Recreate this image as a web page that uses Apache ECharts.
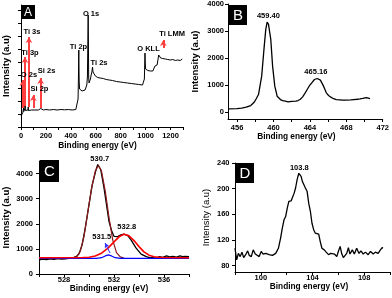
<!DOCTYPE html>
<html><head><meta charset="utf-8">
<script src="https://cdn.jsdelivr.net/npm/echarts@6/dist/echarts.min.js"></script>
<style>html,body{margin:0;padding:0;background:#fff}#c{width:392px;height:298px}</style>
</head><body><div id="c"></div>
<script>
// ---------- Panel A: survey spectrum ----------
const aEnergy = [0,5,10,15,18,20,22,26,30,33,36,42,50,56,58,60,70,85,98,101,104,120,140,155,158,161,180,200,230,260,290,320,350,380,410,440,452,458,461,463,464,465,467,470,475,482,490,498,506,514,522,528,533,536,539,541,543,546,551,557,563,569,574,578,583,590,597,605,615,625,635,648,660,672,684,696,708,720,735,750,765,780,795,810,825,840,855,870,885,900,915,930,945,960,975,985,990,993,995,997,1000,1008,1018,1028,1038,1048,1058,1068,1075,1080,1085,1092,1100,1105,1110,1115,1121,1128,1138,1148,1158,1168,1178,1188,1198,1208,1218,1228,1238,1248,1258,1268,1278,1288,1294];
const aIntensity = [11,12,13,14.5,16,19,15.5,16,18,21,16.5,16,16.5,17,20,16.5,16.5,17,17,18.5,17,17,17,17.5,18.5,17,17,17.5,17,17.5,17,17.5,17.2,17.5,17,17.5,18,28,50,70,77,62,45,38,37,39,36,37,35,37,38,42,50,80,112,85,50,44,45,48,52,55,60,55,53,54,51,52,49.5,50.5,49,50,48.5,49,47.5,48.5,47,47.5,46.5,47,45.5,46.5,45,45.5,44.5,45,44,44.5,43.5,44,43,43.5,42.5,43,42,42.5,48,64,74,65,58,57,56.5,57.5,56,57,56,57.5,61,59,60,62,68,72,70,73,69,70.5,68.5,70,68,69.5,67.5,69,67,68.5,67.5,68,66.5,68,67,68,66.5,67.5,68];
const aXTickLabels = [0,200,400,600,800,1000,1200];
const aPeakNames = ['O 1s','Ti 2p','Ti 2s','O KLL','Ti LMM','O 2s','Ti 3p','Ti 3s','Si 2p','Si 2s'];
const aPeakLabelX = [562,461,626,1023,1212,64,72,88,148,205];
const aPeakLabelY = [113,80,64,78,93,52,74,95,38,56];
const aArrowX = [14,32,64,99,158,1142];
const aArrowFrom = [19,20,20,19,19,79];
const aArrowTo = [47,70,90,32,49,87];

// ---------- Panel B: Ti 2p ----------
const bEnergy = [455.1,456,456.5,457,457.5,457.9,458.1,458.35,458.7,458.95,459.15,459.3,459.45,459.7,459.9,460.14,460.4,460.76,461.0,461.3,461.6,461.8,462.0,462.2,462.45,462.7,462.95,463.2,463.45,463.7,463.95,464.2,464.5,464.8,465.0,465.15,465.5,465.8,466.05,466.3,466.6,466.9,467.3,467.6,467.9,468.1,468.5,468.8,469.2,469.5,469.8,470.0,470.2,470.4,470.6];
const bIntensity = [123,136,150,185,247,380,500,654,1333,2321,3062,3333,3247,2691,1704,963,593,469,430,407,380,370,400,395,410,432,480,568,700,840,980,1086,1210,1247,1230,1185,963,716,620,556,500,469,455,444,450,444,455,469,480,494,510,531,540,519,505];
const bXTickLabels = [456,460,464,468,472];
const bYTickLabels = [0,1000,2000,3000,4000];
const bPeakNames = ['459.40','465.16'];
const bPeakLabelX = [459.44,464.65];
const bPeakLabelY = [3568,1498];

// ---------- Panel C: O 1s ----------
const cEnergy = [526.0,526.3,526.6,526.9,527.2,527.5,527.8,528.1,528.4,528.7,529.0,529.2,529.45,529.7,530.0,530.26,530.53,530.7,530.94,531.2,531.4,531.6,531.83,532.0,532.3,532.55,532.8,533.1,533.36,533.77,534.17,534.58,534.9,535.1,535.4,535.65,535.9,536.2,536.45,536.7,537.0,537.27,537.5,537.7,538.0];
const cIntensity = [560,590,570,600,580,610,590,600,620,640,700,800,1160,1830,2760,3560,4090,4360,4160,3430,2760,2090,1690,1500,1490,1560,1590,1530,1360,1030,790,690,640,660,630,690,660,720,680,700,670,720,690,700,690];
const cFit1Energy = [528.6,529.0,529.3,529.6,529.9,530.2,530.5,530.75,531.0,531.3,531.6,531.9,532.2,532.5,532.8];
const cFit1Intensity = [620,680,900,1500,2450,3400,4100,4320,4100,3300,2250,1350,850,680,630];
const cFit2Energy = [526,530.6,531.0,531.3,531.55,531.8,532.1,532.5,538];
const cFit2Intensity = [620,622,650,720,760,720,650,625,620];
const cFit3Energy = [526,529.5,530.0,530.5,531.0,531.5,532.0,532.4,532.8,533.2,533.6,534.0,534.4,534.8,535.2,535.6,536.0,538];
const cFit3Intensity = [650,655,670,720,830,1020,1280,1480,1580,1520,1330,1090,880,750,690,665,655,650];
const cXTickLabels = [528,532,536];
const cYTickLabels = [0,1000,2000,3000,4000];
const cPeakNames = ['530.7','531.5','532.8'];
const cPeakLabelX = [530.86,531.02,533.02];
const cPeakLabelY = [4500,1473,1860];
const cPeakLabelDy = [-2,0,0];
const cArrow = [[531.68,836],[531.28,1235]];

// ---------- Panel D: Si 2p ----------
const dEnergy = [98.0,98.13,98.26,98.4,98.54,98.67,98.85,98.98,99.1,99.26,99.41,99.57,99.72,99.87,100.03,100.18,100.38,100.64,100.9,101.15,101.36,101.53,101.66,101.79,101.92,102.05,102.17,102.35,102.48,102.58,102.69,102.81,102.94,103.0,103.12,103.22,103.35,103.45,103.58,103.71,103.84,103.96,104.09,104.22,104.35,104.48,104.6,104.73,104.91,105.06,105.24,105.4,105.55,105.7,105.88,106.0,106.14,106.27,106.39,106.52,106.65,106.78,106.9,107.08,107.24,107.42,107.6,107.75,107.93,108.1,108.31,108.49,108.7,108.87,109.08,109.26,109.39,109.46];
const dIntensity = [107,89,99,94,101,92.5,98,103,96,94,104.5,98,101,94,102,98,99,97,96,99,107,123,138,151,156.5,170,180,181,183,193,201,214,224,227,219,211,214,201,196,177,164,146,136,130.5,128,129,117.5,107,104.5,101,97,99,96,98,94,102,110,98,92.5,94,99,108,98,104.5,98,107,99,103,98,101,97,102,98,101,99,104.5,108,107];
const dXTickLabels = [100,104,108];
const dYTickLabels = [80,120,160,200,240];
const dPeakNames = ['103.8'];
const dPeakLabelX = [102.98];
const dPeakLabelY = [232];

// ---------- helpers ----------
const FONT = 'Liberation Sans';
const zip = (xs, ys) => xs.map((x, i) => [x, ys[i]]);
const range = (a, b, s) => { const r = []; for (let v = a; v <= b + 1e-9; v += s) r.push(+v.toFixed(6)); return r; };
const labelPoints = (names, xs, ys, dys) => names.map((n, i) => ({
  name: n, coord: [xs[i], ys[i]], symbol: 'circle', symbolSize: 1,
  itemStyle: { color: 'rgba(0,0,0,0)' },
  label: { show: true, position: 'inside', offset: [0, dys ? dys[i] : 0], formatter: n, color: '#000', fontSize: 7.5, fontWeight: 'bold', fontFamily: FONT }
}));
const plain = v => String(v);
function xAx(idx, min, max, labels, ticks, name, gap, padRight, margin) {
  return {
    type: 'value', gridIndex: idx, min, max, name, nameLocation: 'middle', nameGap: gap,
    nameTextStyle: { color: '#000', fontSize: 8.3, fontWeight: 'bold', fontFamily: FONT, padding: [0, padRight, 0, 0] },
    axisLine: { show: true, onZero: false, lineStyle: { color: '#000', width: 1 } },
    axisTick: { show: true, length: 3, customValues: ticks, lineStyle: { color: '#000' } },
    axisLabel: { show: true, customValues: labels, formatter: plain, margin, color: '#000', fontSize: 7.5, fontWeight: 'bold', fontFamily: FONT },
    splitLine: { show: false }
  };
}
function yAx(idx, min, max, labels, ticks, name, gap, showLabels, margin, nameWeight) {
  return {
    type: 'value', gridIndex: idx, min, max, name, nameLocation: 'middle', nameGap: gap, nameRotate: 90,
    nameTextStyle: { color: '#000', fontSize: 9.5, fontWeight: nameWeight, fontFamily: FONT },
    axisLine: { show: true, onZero: false, lineStyle: { color: '#000', width: 1 } },
    axisTick: { show: true, length: 3, customValues: ticks, lineStyle: { color: '#000' } },
    axisLabel: { show: showLabels, customValues: labels, formatter: plain, margin, color: '#000', fontSize: 7.5, fontWeight: 'bold', fontFamily: FONT },
    splitLine: { show: false }
  };
}
function line(idx, data, color, width, extra) {
  return Object.assign({
    type: 'line', xAxisIndex: idx, yAxisIndex: idx, data, symbol: 'none', showSymbol: false,
    lineStyle: { color, width }, itemStyle: { color }, animation: false, silent: true
  }, extra || {});
}
function box(x, y, w, h, letter, fs) {
  return {
    type: 'group', left: x, top: y, z: 100, children: [
      { type: 'rect', shape: { x: 0, y: 0, width: w, height: h }, style: { fill: '#000' } },
      { type: 'text', x: w / 2, y: h / 2 + 0.5, style: { text: letter, fill: '#fff', font: `${fs}px ${FONT}`, textAlign: 'center', textVerticalAlign: 'middle' } }
    ]
  };
}

const arrowsA = aArrowX.map((x, i) => [
  { coord: [x, aArrowFrom[i]] }, { coord: [x, aArrowTo[i]] }
]);

const option = {
  animation: false,
  grid: [
    { left: 21, top: 5, width: 162, height: 122 },
    { left: 228, top: 4, width: 159, height: 115 },
    { left: 39, top: 161, width: 150, height: 113 },
    { left: 235, top: 163, width: 155, height: 109 }
  ],
  xAxis: [
    xAx(0, 0, 1300, aXTickLabels, range(0, 1300, 100), 'Binding energy (eV)', 15, 9, 4.5),
    xAx(1, 455, 472, bXTickLabels, range(456, 472, 2), 'Binding energy (eV)', 13.5, 18, 5),
    xAx(2, 526, 538, cXTickLabels, range(526, 538, 2), 'Binding energy (eV)', 8, 10, 2),
    xAx(3, 98, 110, dXTickLabels, range(98, 110, 2), 'Binding energy (eV)', 11, 7, 2)
  ],
  yAxis: [
    yAx(0, 0, 122, [], range(0, 117, 13), 'Intensity (a.u)', 10, false, 4, 'bold'),
    yAx(1, -250, 4000, bYTickLabels, bYTickLabels, 'Intensity (a.u)', 27.7, true, 4, 'bold'),
    yAx(2, 0, 4500, cYTickLabels, cYTickLabels, 'Intensity (a.u)', 27.7, true, 6, 'bold'),
    yAx(3, 70, 240, dYTickLabels, dYTickLabels, 'Intensity (a.u)', 24, true, 5.5, 'normal')
  ],
  series: [
    line(0, zip(aEnergy, aIntensity), '#000', 1, {
      markLine: {
        z: 1, silent: true, animation: false, symbol: ['none', 'arrow'], symbolSize: [5, 6],
        label: { show: false }, lineStyle: { color: '#ff4040', width: 2, type: 'solid' },
        data: arrowsA
      }
    }),
    line(0, [], '#000', 1, {
      z: 5,
      markPoint: { z: 10, silent: true, animation: false, data: labelPoints(aPeakNames, aPeakLabelX, aPeakLabelY) }
    }),
    line(1, zip(bEnergy, bIntensity), '#000', 1.3, {
      markPoint: { silent: true, animation: false, data: labelPoints(bPeakNames, bPeakLabelX, bPeakLabelY) }
    }),
    line(2, zip(cEnergy, cIntensity), '#000', 1.3),
    line(2, zip(cFit1Energy, cFit1Intensity), '#8b1a1a', 1.2),
    line(2, zip(cFit2Energy, cFit2Intensity), '#0000ff', 1.2),
    line(2, zip(cFit3Energy, cFit3Intensity), '#ff0000', 1.6, {
      markPoint: { silent: true, animation: false, data: labelPoints(cPeakNames, cPeakLabelX, cPeakLabelY, cPeakLabelDy) },
      markLine: {
        silent: true, animation: false, symbol: ['none', 'arrow'], symbolSize: [4, 5],
        label: { show: false }, lineStyle: { color: '#3030ff', width: 1, type: 'solid' },
        data: [[{ coord: cArrow[0] }, { coord: cArrow[1] }]]
      }
    }),
    line(3, zip(dEnergy, dIntensity), '#000', 1.3, {
      markPoint: { silent: true, animation: false, data: labelPoints(dPeakNames, dPeakLabelX, dPeakLabelY) }
    })
  ],
  graphic: [
    box(21, 5, 14, 14, 'A', 12),
    box(229, 5, 18, 20, 'B', 15),
    box(40, 160, 19, 22, 'C', 15),
    box(236, 163, 18, 20, 'D', 15)
  ]
};
const chart = echarts.init(document.getElementById('c'), null, { renderer: 'canvas' });
chart.setOption(option);
</script>
</body></html>
